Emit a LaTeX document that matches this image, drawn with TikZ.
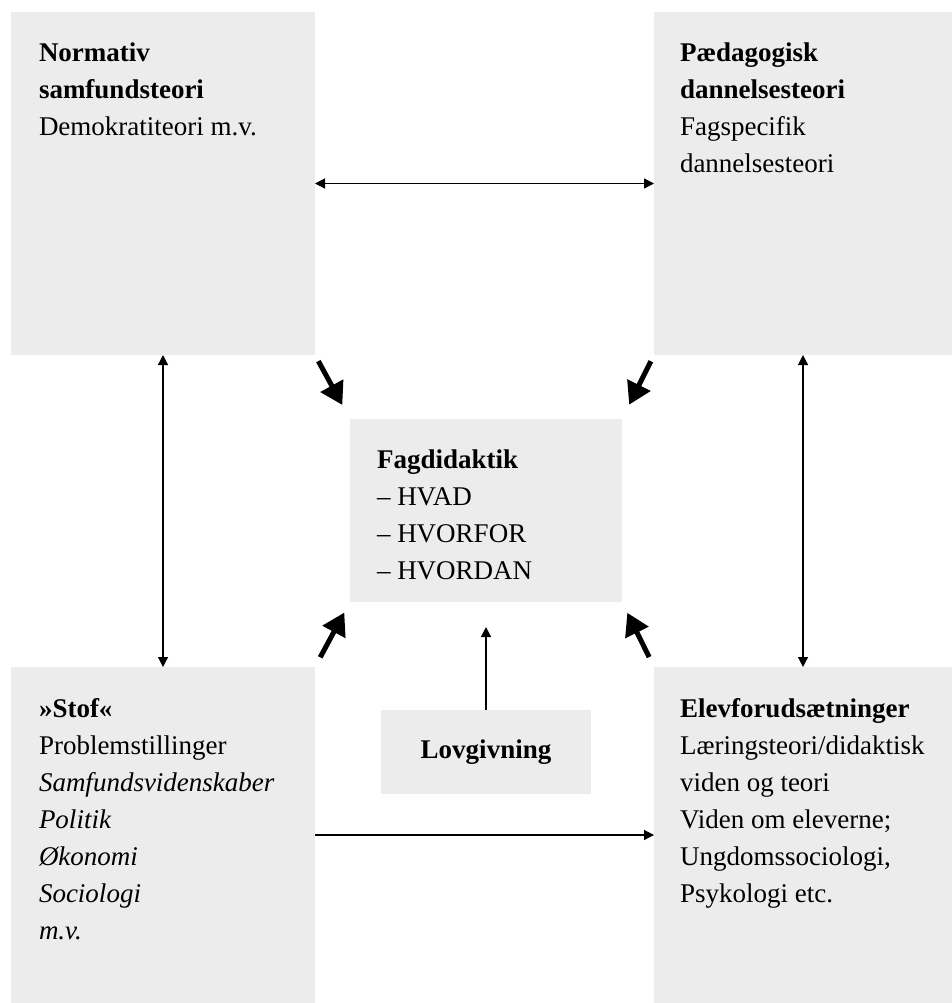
\documentclass[tikz,border=0pt]{standalone}
\usepackage{fontspec}
\setmainfont{Liberation Serif}
\usetikzlibrary{arrows.meta}
\definecolor{boxgrey}{HTML}{ECECEC}
\tikzset{
  box/.style={rectangle, fill=boxgrey, draw=none, inner sep=0pt, outer sep=0pt, anchor=north west},
  txt/.style={inner sep=0pt, outer sep=0pt, anchor=north west, align=left, font=\fontsize{27}{37}\selectfont},
  thin/.style={line width=1.2pt, {Triangle[length=10pt,width=10pt]}-{Triangle[length=10pt,width=10pt]}},
  thinone/.style={line width=1.2pt, -{Triangle[length=10pt,width=10pt]}},
  fat/.style={line width=5pt, -{Triangle[length=22pt,width=25pt]}}
}
\begin{document}
\begin{tikzpicture}[x=1pt,y=-1pt]
\useasboundingbox (0,0) rectangle (952,1003);
% boxes
\node[box, minimum width=304pt, minimum height=343pt] (tl) at (11,12) {};
\node[box, minimum width=298pt, minimum height=343pt] (tr) at (654,12) {};
\node[box, minimum width=272pt, minimum height=183pt] (c) at (350,419) {};
\node[box, minimum width=304pt, minimum height=336pt] (bl) at (11,667) {};
\node[box, minimum width=298pt, minimum height=336pt] (br) at (654,667) {};
\node[box, minimum width=210pt, minimum height=84pt, font=\fontsize{27}{37}\selectfont\bfseries] (lov) at (381,710) {Lovgivning};
% texts
\node[txt] (tlt) at (39,36.1) {\strut\textbf{Normativ}\\\textbf{samfundsteori}\\Demokratiteori m.v.};
\node[txt] (trt) at (680,36.1) {\strut\textbf{Pædagogisk}\\\textbf{dannelsesteori}\\Fagspecifik\\dannelsesteori};
\node[txt] (ct) at (377,442.1) {\strut\textbf{Fagdidaktik}\\– HVAD\\– HVORFOR\\– HVORDAN};
\node[txt] (blt) at (39,691.1) {\strut\textbf{»Stof«}\\Problemstillinger\\\textit{Samfundsvidenskaber}\\\textit{Politik}\\\textit{Økonomi}\\\textit{Sociologi}\\\textit{m.v.}};
\node[txt] (brt) at (680,691.1) {\strut\textbf{Elevforudsætninger}\\Læringsteori/didaktisk\\viden og teori\\Viden om eleverne;\\Ungdomssociologi,\\Psykologi etc.};
% thin connectors
\draw[thin] (tl.east) -- (tr.west);
\draw[thin] (tl.south) -- (bl.north);
\draw[thin] (tr.south) -- (br.north);
\draw[thinone] (bl.east) -- (br.west);
\draw[thinone, shorten >=25pt] (lov.north) -- (c.south);
% fat arrows
\draw[fat, shorten <=7pt, shorten >=16pt] (tl.south east) -- (c.north west);
\draw[fat, shorten <=7pt, shorten >=16pt] (tr.south west) -- (c.north east);
\draw[fat, shorten <=11pt, shorten >=12pt] (bl.north east) -- (c.south west);
\draw[fat, shorten <=11pt, shorten >=12pt] (br.north west) -- (c.south east);
\end{tikzpicture}
\end{document}
